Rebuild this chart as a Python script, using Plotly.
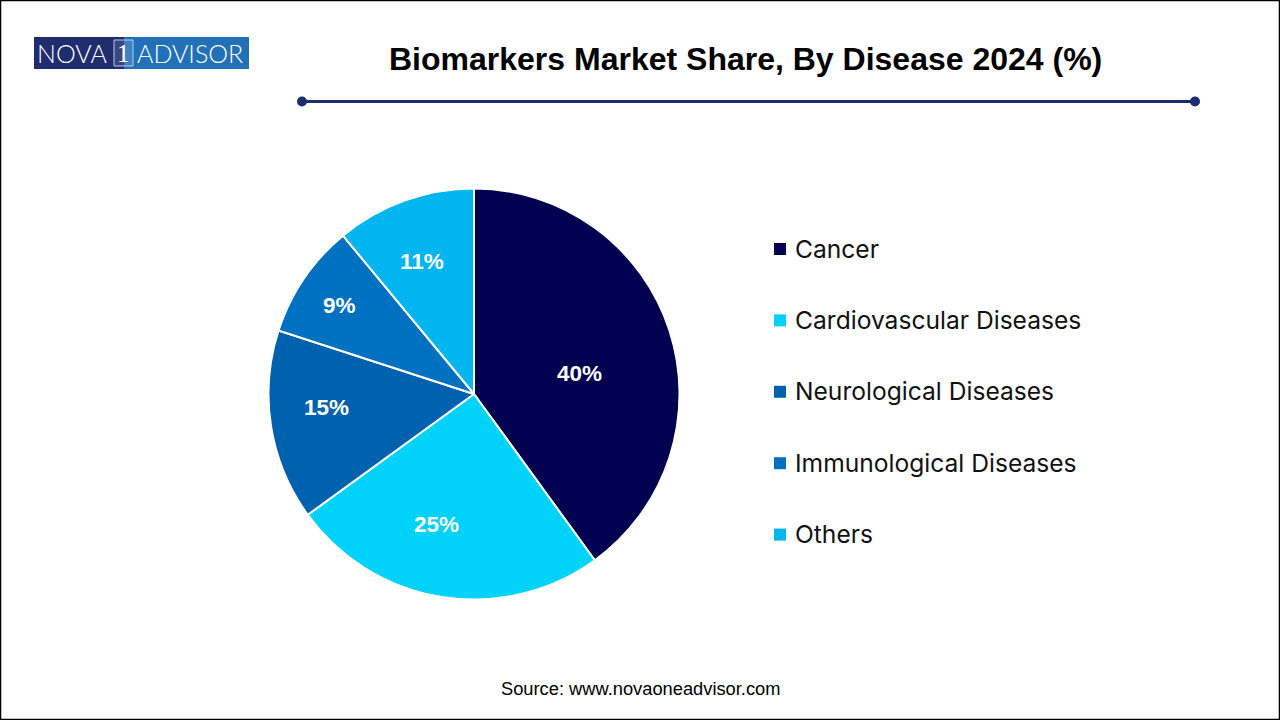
import plotly.graph_objects as go

# Chart data
diseases = ['Cancer', 'Cardiovascular Diseases', 'Neurological Diseases', 'Immunological Diseases', 'Others']
shares = [40, 25, 15, 9, 11]
colors = ['#000050', '#00D2FA', '#0062AE', '#0070C0', '#00B5F0']

# Where the percent labels sit in the reference, pixels
label_x = [579, 436, 326, 339, 422]
label_y = [373, 524, 407, 305, 261]

W = 1280
H = 720

fig = go.Figure(data=go.Pie(
    labels=diseases,
    values=shares,
    sort=False,
    direction='clockwise',
    rotation=0,
    marker=dict(colors=colors, line=dict(color='white', width=2)),
    textinfo='none',
    hoverinfo='label+percent',
    showlegend=False,
    domain=dict(x=[268.5 / W, 679.5 / W], y=[(H - 599.5) / H, (H - 188.5) / H]),
))

shapes = []
annotations = []


# Helpers working in pixels from the top left corner
def px_x(x):
    return x / W


def px_y(y):
    return 1 - y / H


def add_rect(x0, y0, x1, y1, fill, line_color=None, line_width=0):
    shapes.append(dict(type='rect', xref='paper', yref='paper',
                       x0=px_x(x0), x1=px_x(x1), y0=px_y(y0), y1=px_y(y1),
                       fillcolor=fill, line=dict(color=line_color, width=line_width)))


def add_text(x, y, text, size, color='black', family='Liberation Sans', weight='normal', anchor='left'):
    annotations.append(dict(xref='paper', yref='paper', x=px_x(x), y=px_y(y), text=text,
                            showarrow=False, xanchor=anchor, yanchor='middle',
                            font=dict(family=family, size=size, color=color, weight=weight)))


# Title and the rule under it
add_text(745.5, 59, 'Biomarkers Market Share, By Disease 2024 (%)', 32, weight='bold', anchor='center')
shapes.append(dict(type='line', xref='paper', yref='paper', x0=px_x(302), x1=px_x(1195),
                   y0=px_y(101.5), y1=px_y(101.5), line=dict(color='#1F2D6E', width=3)))
for cx in [302, 1195]:
    shapes.append(dict(type='circle', xref='paper', yref='paper',
                       x0=px_x(cx - 5), x1=px_x(cx + 5), y0=px_y(96.5), y1=px_y(106.5),
                       fillcolor='#1F2D6E', line=dict(width=0)))

# Percent labels
for i, value in enumerate(shares):
    add_text(label_x[i], label_y[i], str(value) + '%', 22.5, color='white', weight='bold', anchor='center')

# Logo
add_rect(34, 37, 124, 69, '#1F2D6E')
add_rect(124, 37, 249, 69, '#2270B8')
add_rect(114, 40, 133, 66, 'rgba(255,255,255,0.12)', '#B9CBE6', 1)
add_text(35, 53, 'NOVA', 25, color='white', family='Lato', weight=300)
add_text(123.5, 54, '1', 25, color='white', family='Liberation Serif', anchor='center')
add_text(135, 53, 'ADVISOR', 25, color='white', family='Lato', weight=300)

# Legend
for i, name in enumerate(diseases):
    y = 249 + i * 71.4
    add_rect(774, y - 6, 786, y + 6, colors[i])
    add_text(793, y - 0.5, name, 24.6, color='#111111', family='Inter')

# Source line
add_text(640.5, 688, 'Source: www.novaoneadvisor.com', 18.3, anchor='center')

# Image frame
add_rect(0.5, 0.5, 1279.5, 719.5, 'rgba(0,0,0,0)', 'black', 1.5)

fig.update_layout(
    width=W,
    height=H,
    margin=dict(l=0, r=0, t=0, b=0),
    paper_bgcolor='white',
    shapes=shapes,
    annotations=annotations,
)

# The page keeps a default body margin otherwise, which pushes the figure off by 8px
fig.write_html("out.html", config={'displayModeBar': False},
               post_script="document.body.style.margin='0';document.body.style.overflow='hidden';")
